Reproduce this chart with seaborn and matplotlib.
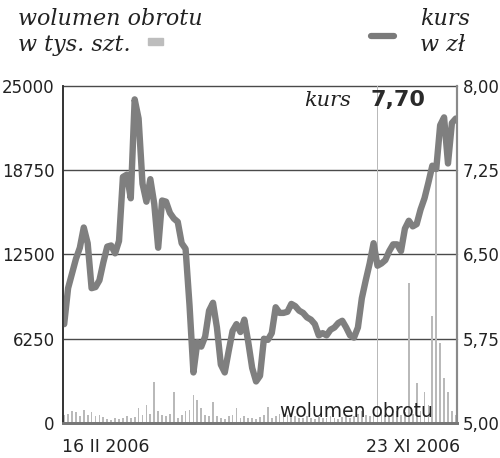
import seaborn as sns
import matplotlib.pyplot as plt
from matplotlib.patches import Rectangle
from matplotlib.lines import Line2D
import pandas as pd
import numpy as np

# share price (zł), every second trading session, 16 II 2006 - 23 XI 2006
price = [5.88, 6.20, 6.33, 6.46, 6.56, 6.74, 6.60, 6.20, 6.21, 6.27,
         6.43, 6.57, 6.58, 6.51, 6.62, 7.19, 7.21, 7.00, 7.88, 7.71,
         7.13, 6.97, 7.17, 6.95, 6.56, 6.98, 6.97, 6.87, 6.82, 6.79,
         6.60, 6.55, 6.05, 5.45, 5.72, 5.68, 5.77, 6.00, 6.07, 5.85,
         5.52, 5.45, 5.64, 5.82, 5.88, 5.81, 5.92, 5.72, 5.49, 5.37,
         5.42, 5.75, 5.74, 5.80, 6.03, 5.98, 5.98, 5.99, 6.06, 6.04,
         6.00, 5.98, 5.94, 5.92, 5.88, 5.78, 5.80, 5.78, 5.83, 5.85,
         5.89, 5.91, 5.85, 5.78, 5.76, 5.85, 6.11, 6.27, 6.42, 6.60,
         6.40, 6.42, 6.45, 6.53, 6.59, 6.59, 6.53, 6.73, 6.80, 6.75,
         6.77, 6.90, 7.00, 7.14, 7.29, 7.26, 7.65, 7.72, 7.31, 7.67,
         7.71]

# trading volume (thousand shares)
volume = [600, 700, 900, 800, 500, 950, 600, 800, 500, 600,
          450, 300, 250, 350, 300, 400, 500, 350, 450, 1100,
          600, 1350, 700, 3050, 900, 600, 500, 700, 2300, 400,
          600, 900, 1000, 2100, 1700, 1100, 600, 500, 1550, 500,
          400, 300, 500, 600, 1100, 400, 500, 350, 400, 300,
          450, 600, 1200, 400, 500, 700, 800, 600, 750, 500,
          400, 350, 500, 400, 300, 450, 400, 350, 500, 400,
          300, 450, 600, 400, 500, 700, 900, 600, 500, 700,
          27000, 800, 600, 500, 700, 900, 600, 800, 10400, 700,
          2950, 900, 2300, 1300, 7900, 18600, 5950, 3350, 2300, 900,
          600]

vol_ticks = [0, 6250, 12500, 18750, 25000]
vol_labels = ["0", "6250", "12500", "18750", "25000"]
price_ticks = [5.00, 5.75, 6.50, 7.25, 8.00]
price_labels = ["5,00", "5,75", "6,50", "7,25", "8,00"]
date_labels = ["16 II 2006", "23 XI 2006"]


def create_chart():
    sns.set_style("white")
    plt.rcParams["font.family"] = ["DejaVu Sans"]

    df = pd.DataFrame({"session": np.arange(len(price)) * 2,
                       "price": price, "volume": volume})

    fig = plt.figure(figsize=(5, 4.58), dpi=100)
    ax = fig.add_axes([0.126, 0.0764, 0.788, 0.736])
    ax2 = ax.twinx()

    # volume bars
    ax.bar(df["session"], df["volume"], width=0.9, color="#b9b9b9", linewidth=0)
    ax.set_ylim(0, 25000)
    ax.set_xlim(-0.6, df["session"].iloc[-1] + 0.6)
    for v in vol_ticks[1:]:
        ax.axhline(v, color="#4a4a4a", lw=1.0, zorder=0.5, clip_on=False)
    ax.set_yticks(vol_ticks)
    ax.set_yticklabels(vol_labels)
    ax.tick_params(axis="y", length=0, pad=6, labelsize=12, colors="#222222")
    ax.set_xticks([])

    # price line
    sns.lineplot(data=df, x="session", y="price", ax=ax2, color="#7f7f7f",
                 lw=4.6, solid_joinstyle="round", solid_capstyle="round")
    ax2.set_ylim(5, 8)
    ax2.set_yticks(price_ticks)
    ax2.set_yticklabels(price_labels)
    ax2.tick_params(axis="y", length=0, pad=4, labelsize=12, colors="#222222")
    ax2.set_xlabel("")
    ax2.set_ylabel("")
    ax2.set_xticks([])

    for a in (ax, ax2):
        a.spines["top"].set_visible(False)
        a.spines["left"].set_color("#333333")
        a.spines["left"].set_linewidth(1.2)
        a.spines["right"].set_color("#8a8a8a")
        a.spines["right"].set_linewidth(1.5)
        a.spines["bottom"].set_color("#777777")
        a.spines["bottom"].set_linewidth(2)
    ax.patch.set_visible(False)

    # in-plot annotations
    ax2.text(0.73, 0.94, "kurs", transform=ax2.transAxes, ha="right",
             va="baseline", family="DejaVu Serif", style="italic",
             fontsize=15, color="#222222")
    ax2.text(0.78, 0.94, "7,70", transform=ax2.transAxes, ha="left",
             va="baseline", fontsize=16, fontweight="bold", color="#2a2a2a")
    ax.text(0.745, 0.018, "wolumen obrotu", transform=ax.transAxes,
            ha="center", va="baseline", fontsize=13.5, color="#222222")

    # date labels
    fig.text(0.124, 0.013, date_labels[0], ha="left", va="baseline",
             fontsize=12.5, color="#222222")
    fig.text(0.92, 0.013, date_labels[1], ha="right", va="baseline",
             fontsize=12.5, color="#222222")

    # header legend
    serif = dict(family="DejaVu Serif", style="italic", fontsize=16,
                 color="#222222", va="baseline")
    fig.text(0.036, 0.945, "wolumen obrotu", ha="left", **serif)
    fig.text(0.036, 0.888, "w tys. szt.", ha="left", **serif)
    fig.text(0.84, 0.945, "kurs", ha="left", **serif)
    fig.text(0.84, 0.888, "w zł", ha="left", **serif)
    fig.patches.append(Rectangle((0.296, 0.902), 0.030, 0.016,
                                 transform=fig.transFigure, color="#bdbdbd"))
    fig.lines.append(Line2D([0.742, 0.788], [0.921, 0.921],
                            transform=fig.transFigure, color="#7a7a7a",
                            lw=4.5, solid_capstyle="round"))

    fig.savefig("out.png", dpi=100)
    plt.close(fig)


if __name__ == "__main__":
    create_chart()
